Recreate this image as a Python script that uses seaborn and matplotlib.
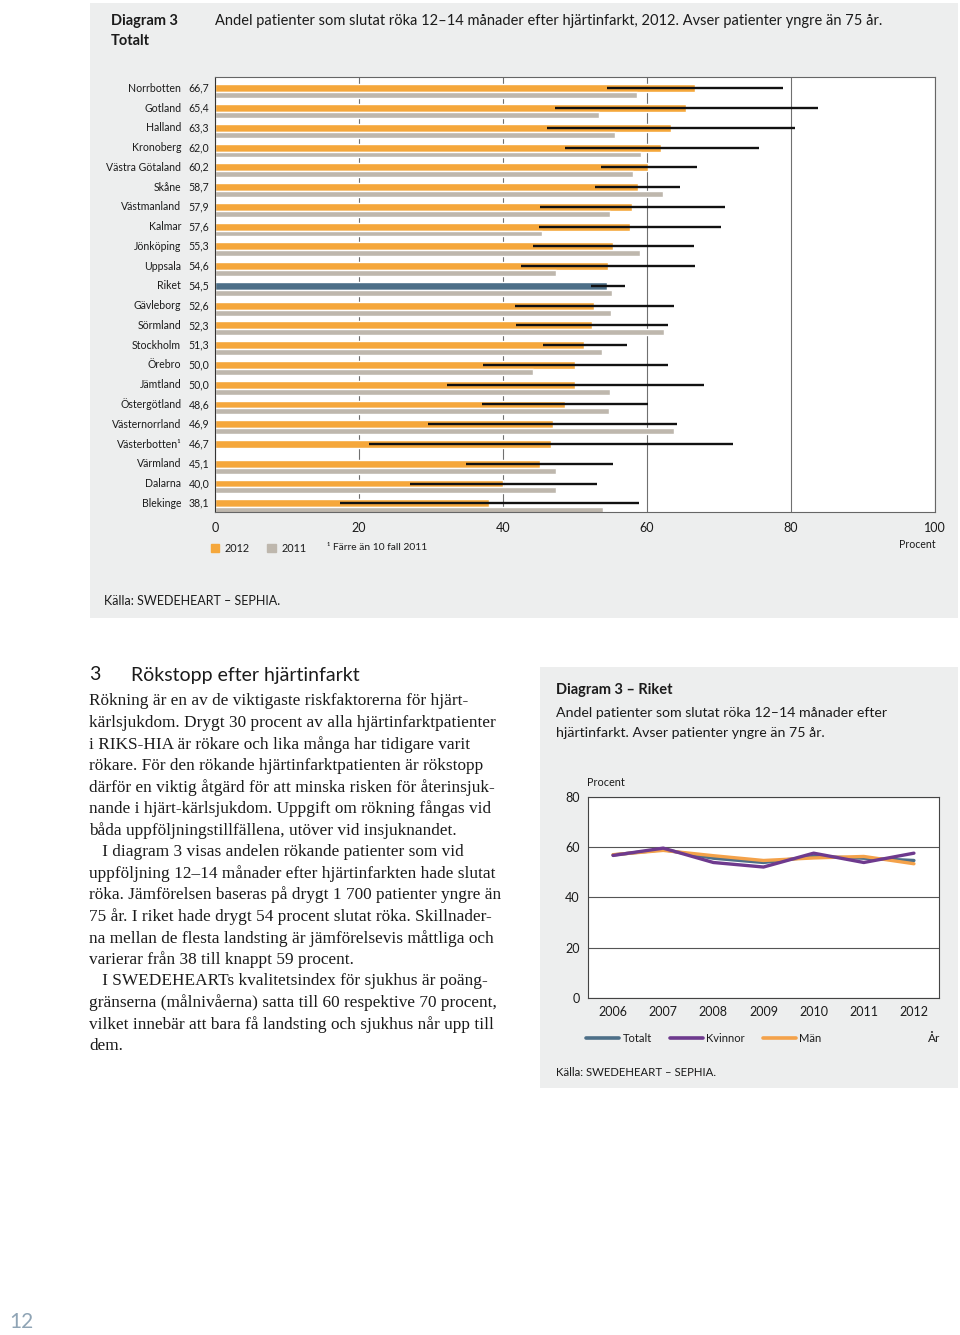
import numpy as np
import pandas as pd
import matplotlib
matplotlib.use("Agg")
import matplotlib.pyplot as plt
import seaborn as sns
from matplotlib.patches import Rectangle, Patch
from matplotlib.lines import Line2D
from matplotlib.transforms import blended_transform_factory

# ---------------- data ----------------
regions = ["Norrbotten", "Gotland", "Halland", "Kronoberg", "Västra Götaland", "Skåne",
           "Västmanland", "Kalmar", "Jönköping", "Uppsala", "Riket", "Gävleborg", "Sörmland",
           "Stockholm", "Örebro", "Jämtland", "Östergötland", "Västernorrland", "Västerbotten¹",
           "Värmland", "Dalarna", "Blekinge"]
v2012 = [66.7, 65.4, 63.3, 62.0, 60.2, 58.7, 57.9, 57.6, 55.3, 54.6, 54.5, 52.6, 52.3,
         51.3, 50.0, 50.0, 48.6, 46.9, 46.7, 45.1, 40.0, 38.1]
v2011 = [58.6, 53.4, 55.6, 59.1, 58.0, 62.2, 54.8, 45.4, 59.0, 47.3, 55.2, 55.0, 62.3,
         53.8, 44.2, 54.9, 54.7, 63.7, np.nan, 47.3, 47.4, 53.9]
ci_low = [54.5, 47.2, 46.1, 48.6, 53.6, 52.8, 45.1, 45.0, 44.2, 42.5, 52.2, 41.6, 41.8,
          45.5, 37.2, 32.2, 37.1, 29.6, 21.4, 34.9, 27.1, 17.4]
ci_high = [78.9, 83.7, 80.6, 75.5, 66.9, 64.6, 70.8, 70.3, 66.5, 66.6, 56.9, 63.7, 62.9,
           57.2, 62.9, 67.9, 60.2, 64.2, 72.0, 55.3, 53.0, 58.9]
x_ticks = [0, 20, 40, 60, 80, 100]

years = [2006, 2007, 2008, 2009, 2010, 2011, 2012]
totalt = [56.8, 58.9, 55.5, 53.8, 56.2, 55.5, 54.6]
kvinnor = [56.6, 59.5, 53.8, 52.0, 57.5, 53.8, 57.5]
man = [56.9, 58.6, 56.5, 54.6, 55.6, 56.2, 53.3]
y_ticks2 = [0, 20, 40, 60, 80]

body_lines = [
    "Rökning är en av de viktigaste riskfaktorerna för hjärt-",
    "kärlsjukdom. Drygt 30 procent av alla hjärtinfarktpatienter",
    "i RIKS-HIA är rökare och lika många har tidigare varit",
    "rökare. För den rökande hjärtinfarktpatienten är rökstopp",
    "därför en viktig åtgärd för att minska risken för återinsjuk-",
    "nande i hjärt-kärlsjukdom. Uppgift om rökning fångas vid",
    "båda uppföljningstillfällena, utöver vid insjuknandet.",
    "   I diagram 3 visas andelen rökande patienter som vid",
    "uppföljning 12–14 månader efter hjärtinfarkten hade slutat",
    "röka. Jämförelsen baseras på drygt 1 700 patienter yngre än",
    "75 år. I riket hade drygt 54 procent slutat röka. Skillnader-",
    "na mellan de flesta landsting är jämförelsevis måttliga och",
    "varierar från 38 till knappt 59 procent.",
    "   I SWEDEHEARTs kvalitetsindex för sjukhus är poäng-",
    "gränserna (målnivåerna) satta till 60 respektive 70 procent,",
    "vilket innebär att bara få landsting och sjukhus når upp till",
    "dem.",
]

# ---------------- style ----------------
sns.set_theme(style="white")
plt.rcParams["font.family"] = ["Lato", "DejaVu Sans"]
TXT = "#1b1b1b"
ORANGE = "#F5A73B"
GRAY = "#BEB7AD"
BLUE = "#4D6F88"
PURPLE = "#6E3A8E"
MAN = "#F4A24A"
PANEL = "#EDEEEE"

W, H = 960, 1335
fig = plt.figure(figsize=(W / 100, H / 100), dpi=100)
fig.patch.set_facecolor("white")


def fx(px):
    return px / W


def fy(py):
    return 1 - py / H


def panel(x0, y0, x1, y1):
    fig.patches.append(Rectangle((fx(x0), fy(y1)), (x1 - x0) / W, (y1 - y0) / H,
                                 transform=fig.transFigure, facecolor=PANEL,
                                 edgecolor="none", zorder=-10))


panel(90, 3, 958, 618)
panel(540, 667, 958, 1088)

# ---------------- header ----------------
fig.text(fx(111), fy(21), "Diagram 3", fontsize=10.5, fontweight="bold", color=TXT, va="center")
fig.text(fx(111), fy(41), "Totalt", fontsize=10.5, fontweight="bold", color=TXT, va="center")
fig.text(fx(215), fy(21),
         "Andel patienter som slutat röka 12–14 månader efter hjärtinfarkt, 2012. Avser patienter yngre än 75 år.",
         fontsize=10.5, color=TXT, va="center")

# ---------------- bar chart ----------------
ax = fig.add_axes([fx(215), fy(512), 720 / W, 435 / H])
ax.set_facecolor("white")
pos = np.arange(len(regions))
colors12 = [BLUE if r == "Riket" else ORANGE for r in regions]
ax.barh(pos, v2012, height=0.40, color=colors12, zorder=2)
ax.barh(pos + 0.35, v2011, height=0.30, color=GRAY, zorder=2)
ax.hlines(pos, ci_low, ci_high, color="#111111", lw=1.7, zorder=3)
ax.set_xlim(0, 100)
ax.set_ylim(21.44, -0.57)
ax.set_xticks(x_ticks)
ax.set_xticklabels([str(t) for t in x_ticks], fontsize=9, color=TXT)
ax.set_yticks([])
ax.tick_params(axis="x", length=0, pad=7)
ax.grid(axis="x", color="#707070", lw=0.8, zorder=0)
ax.grid(axis="y", visible=False)
ax.set_axisbelow(True)
for s in ax.spines.values():
    s.set_color("#666666")
    s.set_linewidth(0.8)
ax.spines["left"].set_color("#333333")

tr = blended_transform_factory(ax.transAxes, ax.transData)
for i, (r, v) in enumerate(zip(regions, v2012)):
    ax.text(-0.047, i, r, transform=tr, ha="right", va="center", fontsize=7.6, color=TXT)
    ax.text(-0.008, i, f"{v:.1f}".replace(".", ","), transform=tr, ha="right", va="center",
            fontsize=7.6, color=TXT)

leg = ax.legend(handles=[Patch(color=ORANGE), Patch(color=GRAY)], labels=["2012", "2011"],
                ncol=2, loc="center left", bbox_to_anchor=(-0.006, -0.083), frameon=False,
                handlelength=0.8, handleheight=0.8, handletextpad=0.5, columnspacing=1.6,
                fontsize=7.8, borderaxespad=0, borderpad=0)
for t in leg.get_texts():
    t.set_color(TXT)
fig.text(fx(327), fy(548), "¹ Färre än 10 fall 2011", fontsize=7.4, color=TXT, va="center")
fig.text(fx(936), fy(545), "Procent", fontsize=7.6, color=TXT, va="center", ha="right")
fig.text(fx(104), fy(601), "Källa: SWEDEHEART – SEPHIA.", fontsize=9, color=TXT, va="center")

# ---------------- body text ----------------
fig.text(fx(89), fy(675), "3", fontsize=14, color=TXT, va="center")
fig.text(fx(131), fy(675), "Rökstopp efter hjärtinfarkt", fontsize=14, color=TXT, va="center")
for k, line in enumerate(body_lines):
    fig.text(fx(89), fy(701 + k * 21.56), line, fontsize=12.4, color=TXT, va="center",
             family=["Liberation Serif", "DejaVu Serif"])

# ---------------- line chart ----------------
fig.text(fx(556), fy(690), "Diagram 3 – Riket", fontsize=10.5, fontweight="bold", color=TXT, va="center")
fig.text(fx(556), fy(713), "Andel patienter som slutat röka 12–14 månader efter", fontsize=10.2,
         color=TXT, va="center")
fig.text(fx(556), fy(733), "hjärtinfarkt. Avser patienter yngre än 75 år.", fontsize=10.2,
         color=TXT, va="center")

ax2 = fig.add_axes([fx(588), fy(998), 351 / W, 201.5 / H])
ax2.set_facecolor("white")
df = pd.DataFrame({
    "year": years * 3,
    "value": totalt + man + kvinnor,
    "series": ["Totalt"] * 7 + ["Män"] * 7 + ["Kvinnor"] * 7,
})
pal = {"Totalt": BLUE, "Kvinnor": PURPLE, "Män": MAN}
sns.lineplot(data=df, x="year", y="value", hue="series", hue_order=["Totalt", "Män", "Kvinnor"],
             palette=pal, lw=2.4, ax=ax2, legend=False, zorder=3)
ax2.set_xlim(2005.5, 2012.5)
ax2.set_ylim(0, 80)
ax2.set_xticks(years)
ax2.set_xticklabels([str(y) for y in years], fontsize=9, color=TXT)
ax2.set_yticks(y_ticks2)
ax2.set_yticklabels([str(y) for y in y_ticks2], fontsize=9, color=TXT)
ax2.tick_params(length=0, pad=6)
ax2.set_xlabel("")
ax2.set_ylabel("")
ax2.grid(axis="y", color="#555555", lw=0.8, zorder=0)
ax2.grid(axis="x", visible=False)
ax2.set_axisbelow(True)
for s in ax2.spines.values():
    s.set_color("#444444")
    s.set_linewidth(0.8)

fig.text(fx(587), fy(782), "Procent", fontsize=7.8, color=TXT, va="center")
leg2 = ax2.legend(handles=[Line2D([], [], color=BLUE, lw=2.6), Line2D([], [], color=PURPLE, lw=2.6),
                           Line2D([], [], color=MAN, lw=2.6)],
                  labels=["Totalt", "Kvinnor", "Män"], ncol=3, loc="center left",
                  bbox_to_anchor=(-0.006, -0.199), frameon=False, handlelength=3.0,
                  handletextpad=0.3, columnspacing=1.6, fontsize=8, borderaxespad=0, borderpad=0)
for t in leg2.get_texts():
    t.set_color(TXT)
fig.text(fx(940), fy(1038), "År", fontsize=8.5, color=TXT, va="center", ha="right")
fig.text(fx(556), fy(1072), "Källa: SWEDEHEART – SEPHIA.", fontsize=8.2, color=TXT, va="center")

# page number
fig.text(fx(9), fy(1322), "12", fontsize=15, color="#8FA4B5", va="center")

fig.savefig("out.png", dpi=100, facecolor="white")
